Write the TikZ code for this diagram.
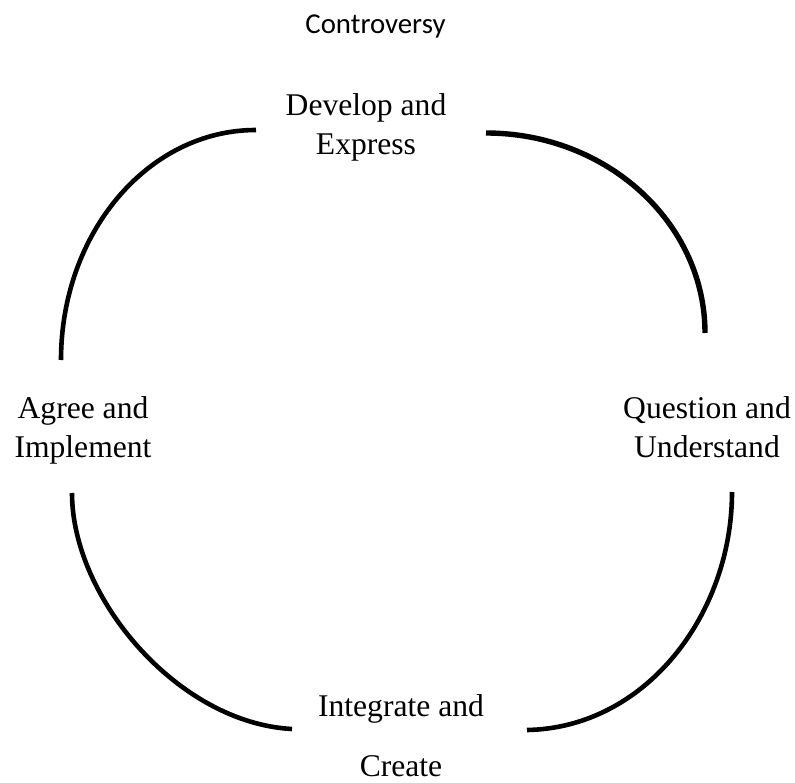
\documentclass[tikz,border=0pt]{standalone}
\usepackage{fontspec}
\setmainfont{Liberation Serif}
\newfontfamily\calibfont{Carlito}
\begin{document}
\begin{tikzpicture}[x=1pt,y=-1pt,
  stagelabel/.style={inner sep=0pt,align=center,anchor=base,
    font=\fontsize{31.6}{39}\selectfont},
  titlelabel/.style={inner sep=0pt,anchor=base,
    font=\calibfont\fontsize{28.8}{34}\selectfont},
  cyclearc/.style={line width=4.6pt,line cap=butt}]
\useasboundingbox (0,0) rectangle (795,783);

% title and the four stages (anchored at the baseline of the last line)
\node[titlelabel] (title) at (375.5,34) {Controversy};
\node[stagelabel] (develop) at (366,155) {Develop and\\Express};
\node[stagelabel] (question) at (707,457) {Question and\\Understand};
\node[stagelabel] (agree) at (83,457) {Agree and\\Implement};
\node[stagelabel,font=\fontsize{31.6}{60}\selectfont] (integrate) at (401,776) {Integrate and\\Create};

% arc end points
\coordinate (tl1) at (256,130);
\coordinate (tl2) at (61,360);
\coordinate (tr1) at (486,133);
\coordinate (tr2) at (705,333);
\coordinate (br1) at (732,492);
\coordinate (br2) at (527,730);
\coordinate (bl1) at (72,493);
\coordinate (bl2) at (292,729);

% the four arcs of the cycle
\draw[cyclearc] (tl1) .. controls (148,130) and (61,233) .. (tl2);
\draw[cyclearc,line width=5.4pt] (tr1) .. controls (607,133) and (705,223) .. (tr2);
\draw[cyclearc] (br1) .. controls (732,615) and (645,728) .. (br2);
\draw[cyclearc] (bl1) .. controls (72,598) and (178,723) .. (bl2);
\end{tikzpicture}
\end{document}
